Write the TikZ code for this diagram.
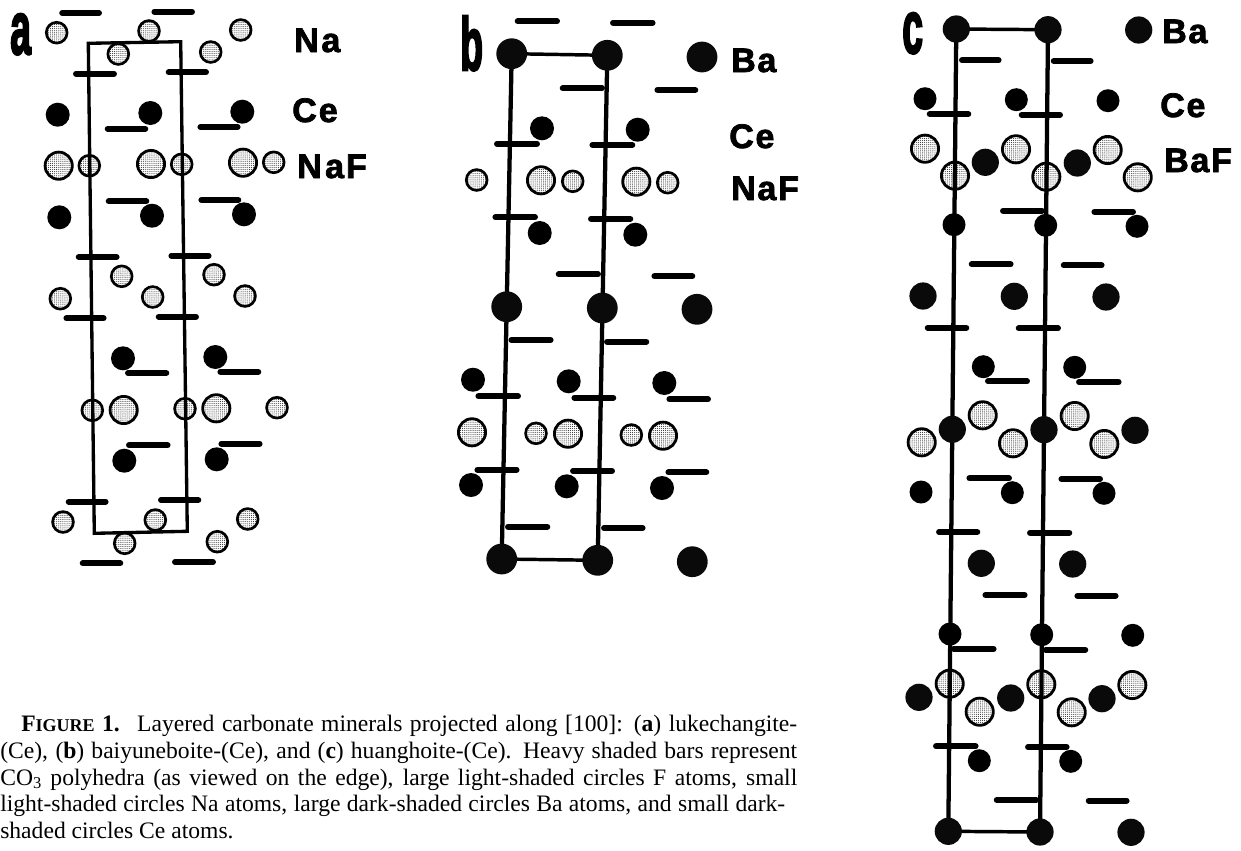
\documentclass[tikz,border=0pt]{standalone}
\usepackage{fontspec}
\usetikzlibrary{patterns.meta}
\setmainfont{Liberation Serif}
\newfontfamily\labf[LetterSpace=5,BoldFeatures={FakeBold=2.2}]{Liberation Sans}
\newfontfamily\panf[BoldFeatures={FakeBold=3.5}]{Liberation Sans}
\tikzset{
  x=0.75pt,y=-0.75pt,
  lightdots/.style={pattern={Dots[radius=0.36pt,distance=1.45pt,xshift=0.2pt]},pattern color=black!90},
  napt/.style={draw=black,line width=2pt,lightdots,radius=10.4},
  fpt/.style={draw=black,line width=2.1pt,lightdots,radius=13.6},
  cept/.style={fill=black,radius=12},
  bapt/.style={fill=black!96,radius=15.4},
  bacpt/.style={fill=black!96,radius=13.6},
  cecpt/.style={fill=black,radius=11.5},
  barline/.style={line width=4.5pt,line cap=round,shorten <=2.8,shorten >=2.8},
  frameline/.style={line width=2.5pt,line join=miter},
  framethick/.style={line width=3.2pt},
  framelink/.style={line width=2.6pt},
  lab/.style={anchor=base west,inner sep=0pt,font=\labf\bfseries\fontsize{25.5}{25.5}\selectfont},
  pan/.style={anchor=base west,inner sep=0pt,font=\panf\bfseries\fontsize{56}{56}\selectfont},
  capt/.style={anchor=base west,inner sep=0pt,align=left,font=\fontsize{17.7}{19.95}\selectfont}
}
\newcommand{\capline}[2]{\makebox[#1\dimexpr0.75pt\relax][s]{#2}}
\begin{document}
\begin{tikzpicture}
\useasboundingbox (0,0) rectangle (1241,850);
% ---------- panel a
\foreach \x/\y in {56.7/32.7,149/31,240.7/30,118.3/54,210.7/52,89.3/165.7,181.7/164.3,273.7/162.3,121.7/276.3,214/274.7,60.3/298.7,152.7/297,245/296,92.3/410.3,185/408.7,277/407.7,63/522,155.3/520,247.7/519,124.7/543.3,217.3/541.7}
  \path[napt] (\x,\y) circle;
\foreach \x/\y in {58.7/165.7,151/164,243/162.7,123.7/410,216.3/408.3}
  \path[fpt] (\x,\y) circle;
\foreach \x/\y in {57.7/114.7,150.3/113,242.3/111.7,59.3/217.3,152/215.7,244/214.3,123/358.3,215.3/357,124.3/460.7,216.7/459.3}
  \path[cept] (\x,\y) circle;
\foreach \a/\b/\y in {58.5/102.7/13,150.7/195.7/11.7,72.3/117.7/73.7,165/209.7/72.3,104/149/128.7,196.7/241.3/127,105/150/201.3,197.7/242/200,75/120.3/257,167.7/212.3/255.7,62.7/107.3/318.3,155/199.7/316.7,124.3/170/373,216.7/262/371.7,125.3/171.3/445.3,217.7/263.3/443.7,65/109.3/501.7,157.3/202/500,79/124/563.3,171.3/216.7/562}
  \draw[barline] (\a,\y) -- (\b,\y);
\coordinate (a1) at (88.3,43.3);
\coordinate (a2) at (180.7,41.7);
\coordinate (a3) at (187.3,531.3);
\coordinate (a4) at (94.3,533.3);
\draw[frameline] (a1) -- (a2) -- (a3) -- (a4) -- cycle;
\node[pan] (pa) at (10,54) {\scalebox{0.5}[1]{a}};
\node[lab] (la1) at (294,52) {N\kern2pt a};
\node[lab] (la2) at (292,122) {C\kern1.5pt e};
\node[lab] (la3) at (297,178) {N\kern2.5pt a\kern1.5pt F};
% ---------- panel b
\foreach \x/\y in {476.7/180,572.7/181.3,667.7/182.7,536/433.3,631.3/435}
  \path[napt] (\x,\y) circle;
\foreach \x/\y in {541/180.3,636.3/181.7,472/432.3,568/433.7,663/435.7}
  \path[fpt] (\x,\y) circle;
\foreach \x/\y in {542/128.3,637.7/129.7,539.7/233,635.3/234.7,473/379.7,568.7/381.3,664.3/383,471/485,566.7/486.3,662/488}
  \path[cept] (\x,\y) circle;
\foreach \x/\y in {702/57,697/309.3,692.3/561.7}
  \path[bapt] (\x,\y) circle;
\foreach \a/\b/\y in {514/560.7/21.3,609.3/656.3/22.7,559/605.7/88.3,653.7/699/90,493.3/540.7/143.7,588.7/636/145,491.7/538.7/217.3,587.3/634/218.7,555/601.7/274.3,650.7/696/276.3,507.7/554.3/340,603.3/650/341.7,474.7/521.7/396.3,570.7/617/397.7,665.7/711.7/399.3,473.7/520.3/469.7,569.3/615.7/471,664.7/710/472.3,504.3/551/526.7,600.3/646.3/528}
  \draw[barline] (\a,\y) -- (\b,\y);
\coordinate (b1) at (511.7,53.7);
\coordinate (b2) at (607.3,55.3);
\coordinate (b3) at (597.7,560.3);
\coordinate (b4) at (501.7,559);
\draw[framethick] (b1) -- (b4) (b2) -- (b3);
\draw[framelink] (b1) -- (b2) (b4) -- (b3);
\foreach \x/\y in {511.7/53.7,607.3/55.3,506.7/306.7,602.3/308,501.7/559,597.7/560.3}
  \path[bapt] (\x,\y) circle;
\node[pan] (pb) at (460,70) {\scalebox{0.5}[1]{b}};
\node[lab] (lb1) at (731,72) {Ba};
\node[lab] (lb2) at (729,148) {Ce};
\node[lab] (lb3) at (731,200) {NaF};
% ---------- panel c
\foreach \x/\y in {925/148.7,1016/149.3,1107.7/150,955/175.7,1046.3/176.7,1137.7/177.3,982.7/415.3,1074.7/416,921.7/442.3,1013/443.3,1104.3/444,949.7/683.7,1041.3/684.3,1132.3/685,979.7/711.7,1071.7/712.3}
  \path[fpt] (\x,\y) circle;
\foreach \x/\y in {925/98.7,1016.3/99.7,1108/100.7,954/224.7,1045.7/225.3,1137/226.3,983.3/366.7,1074.7/367.3,921/492,1012.3/492.7,1104/493.3,950/634,1041.7/634.7,1132.7/635.3,979.3/760.7,1070.7/761.3}
  \path[cecpt] (\x,\y) circle;
\foreach \x/\y in {1138.7/30,985.3/162.3,1077.3/163,923/296,1014.3/296.3,1106/297,1135/430.3,981.3/563.3,1072.7/564,919/697.3,1010.7/698,1102/698.7,1131/832.3}
  \path[bacpt] (\x,\y) circle;
\foreach \a/\b/\y in {958.3/1002.3/60.3,1050/1094.3/61,926/972/114,1018/1063.7/114.7,999.3/1045.7/210.7,1090.7/1136.7/211.7,968/1014.3/264.3,1060/1105.3/265.3,924/970/327.7,1015/1061.7/328.3,984.3/1030.7/381.3,1075.3/1122.3/382,965.7/1012.7/478.3,1057.7/1103.7/479,935.3/981/532,1026.3/1073/532.7,981.7/1028.3/595,1073.7/1119.3/595.7,950/997.3/649,1042/1089/649.7,932.3/979.3/746.3,1024.3/1070.3/747,993/1040/800,1085/1130.3/800.7}
  \draw[barline] (\a,\y) -- (\b,\y);
\coordinate (c1) at (956.3,29);
\coordinate (c2) at (1048,29.7);
\coordinate (c3) at (1040,832);
\coordinate (c4) at (948.3,831.3);
\draw[framethick] (c1) -- (c4) (c2) -- (c3);
\draw[framelink] (c1) -- (c2) (c4) -- (c3);
\foreach \x/\y in {956.3/29,1048/29.7,952.3/429.3,1044/429.7,948.3/831.3,1040/832}
  \path[bacpt] (\x,\y) circle;
\node[pan] (pc) at (902,53) {\scalebox{0.5}[1]{c}};
\node[lab] (lc1) at (1162,43) {Ba};
\node[lab] (lc2) at (1160,117) {Ce};
\node[lab] (lc3) at (1164,172) {BaF};
% ---------- caption
\node[capt] (caption) at (0,838.3) {%
\hspace*{21\dimexpr0.75pt\relax}\capline{776}{{\bfseries F{\fontsize{13.5}{19.95}\selectfont IGURE} 1.}\hspace{0.2em} Layered carbonate minerals projected along [100]: (\textbf{a}) lukechangite-}\\
\capline{797}{(Ce), (\textbf{b}) baiyuneboite-(Ce), and (\textbf{c}) huanghoite-(Ce). Heavy shaded bars represent}\\
\capline{797}{CO\textsubscript{3} polyhedra (as viewed on the edge), large light-shaded circles F atoms, small}\\
\capline{785}{light-shaded circles Na atoms, large dark-shaded circles Ba atoms, and small dark-}\\
shaded circles Ce atoms.};
\end{tikzpicture}
\end{document}
